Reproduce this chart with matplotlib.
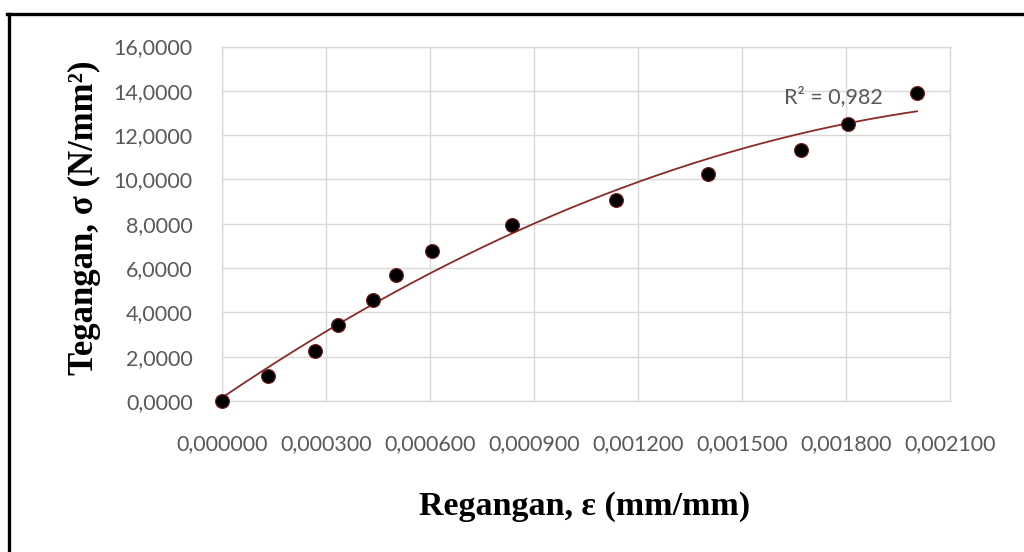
import numpy as np
import matplotlib
matplotlib.use('Agg')
import matplotlib.pyplot as plt
from matplotlib.ticker import FuncFormatter, MultipleLocator
from matplotlib.lines import Line2D

# strain (mm/mm) and stress (N/mm^2)
strain = [0.0, 0.000133, 0.000268, 0.000335, 0.000436, 0.000502, 0.000605,
          0.000837, 0.001137, 0.001402, 0.001670, 0.001805, 0.002005]
stress = [0.0, 1.13, 2.26, 3.42, 4.55, 5.68, 6.76,
          7.96, 9.05, 10.23, 11.35, 12.48, 13.92]

r2_label = 'R² = 0,982'
x_label = 'Regangan, ε (mm/mm)'
y_label = 'Tegangan, σ (N/mm²)'

tick_font = 'Lato'
title_font = 'Liberation Serif'
grey = '#595959'
grid_grey = '#d9d9d9'

# second order polynomial trendline, as in the spreadsheet
coef = np.polyfit(strain, stress, 2)
xs = np.linspace(min(strain), max(strain), 200)
ys = np.polyval(coef, xs)

fig = plt.figure(figsize=(10.24, 5.52), dpi=100)
ax = fig.add_axes([222 / 1024, 1 - 401 / 552, 728 / 1024, 354.5 / 552])

ax.plot(xs, ys, color='#8b2a2a', lw=1.3, zorder=2)
ax.plot(strain, stress, ls='none', marker='o', ms=10, mfc='black',
        mec='#7a2020', mew=0.8, zorder=3, clip_on=False)

ax.set_xlim(0, 0.0021)
ax.set_ylim(0, 16)
ax.xaxis.set_major_locator(MultipleLocator(0.0003))
ax.yaxis.set_major_locator(MultipleLocator(2))
ax.xaxis.set_major_formatter(FuncFormatter(lambda v, p: f'{v:.6f}'.replace('.', ',')))
ax.yaxis.set_major_formatter(FuncFormatter(lambda v, p: f'{v:.4f}'.replace('.', ',')))

ax.grid(True, color=grid_grey, lw=1.0)
ax.set_axisbelow(True)
for s in ax.spines.values():
    s.set_color(grid_grey)
    s.set_linewidth(1.0)
ax.tick_params(length=0, labelsize=15.5, labelcolor=grey)
ax.tick_params(axis='x', pad=24)
ax.tick_params(axis='y', pad=21)
for lbl in ax.get_xticklabels() + ax.get_yticklabels():
    lbl.set_fontfamily(tick_font)

ax.text(0.001621, 13.72, r2_label, fontsize=15.5, color=grey,
        family=tick_font, va='center', ha='left')

fig.text(585 / 1024, 1 - 507 / 552, x_label, family=title_font,
         fontweight='bold', fontsize=24.5, ha='center', va='center')
fig.text(84 / 1024, 1 - 218 / 552, y_label, family=title_font,
         fontweight='bold', fontsize=25, ha='center', va='center',
         rotation=90)

# outer frame: only top and left edges fall inside the picture
fig.add_artist(Line2D([8.5 / 1024, 8.5 / 1024], [0, 1 - 13.5 / 552],
                      transform=fig.transFigure, color='black', lw=2.4))
fig.add_artist(Line2D([7 / 1024, 1], [1 - 13.5 / 552, 1 - 13.5 / 552],
                      transform=fig.transFigure, color='black', lw=2.4))

fig.savefig('out.png', dpi=100)
